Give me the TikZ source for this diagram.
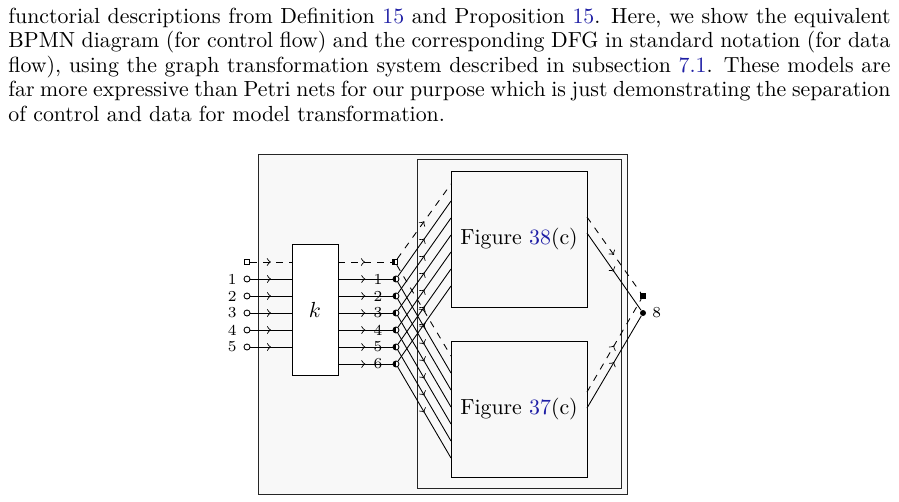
\documentclass[tikz,border=0pt]{standalone}
\usepackage{xcolor}
\usetikzlibrary{decorations.markings}
\definecolor{linkblue}{RGB}{30,30,165}
\definecolor{boxgray}{RGB}{248,248,248}
\newcommand\U{0.458pt}
\begin{document}
\begin{tikzpicture}[x=\U, y=-\U,
  midarrow/.style={postaction={decorate}, decoration={markings, mark=at position 0.5 with {\arrow{to}}}},
  wire/.style={line width=0.4pt, midarrow},
  dwire/.style={wire, dashed},
  bigbox/.style={draw=black!85, line width=0.45pt, fill=boxgray, inner sep=0pt},
  figbox/.style={draw, line width=0.45pt, fill=boxgray, inner sep=0pt, minimum width={136*\U}, minimum height={136*\U}, font=\fontsize{10}{12}\selectfont},
  kbox/.style={draw, line width=0.45pt, fill=white, inner sep=0pt, minimum width={46*\U}, minimum height={131*\U}},
  cport/.style={circle, draw, line width=0.4pt, fill=white, inner sep=0pt, minimum size={6*\U}},
  sport/.style={rectangle, draw, line width=0.4pt, fill=white, inner sep=0pt, minimum size={5.5*\U}},
  halfc/.style={cport, path picture={\fill[black] (path picture bounding box.south west) rectangle (path picture bounding box.north);}},
  halfs/.style={sport, path picture={\fill[black] (path picture bounding box.south west) rectangle (path picture bounding box.north);}},
  outc/.style={circle, fill=black, inner sep=0pt, minimum size={6*\U}},
  outs/.style={rectangle, fill=black, inner sep=0pt, minimum size={5.5*\U}},
  lab/.style={inner sep=0pt, font=\fontsize{7}{8}\selectfont},
  pline/.style={anchor=base west, inner sep=0pt, font=\fontsize{10}{12}\selectfont}
]
\fill[white] (0,0) rectangle (899,501);
\useasboundingbox (0,0) rectangle (899,501);

% paragraph
\node[pline] (p1) at (8,23) {\makebox[404pt][s]{functorial descriptions from Definition \textcolor{linkblue}{15} and Proposition \textcolor{linkblue}{15}. Here, we show the equivalent}};
\node[pline] (p2) at (8,47.5) {\makebox[404pt][s]{BPMN diagram (for control flow) and the corresponding DFG in standard notation (for data}};
\node[pline] (p3) at (8,72) {\makebox[404pt][s]{flow), using the graph transformation system described in subsection \textcolor{linkblue}{7.1}. These models are}};
\node[pline] (p4) at (8,96.5) {\makebox[404pt][s]{far more expressive than Petri nets for our purpose which is just demonstrating the separation}};
\node[pline] (p5) at (8,121) {of control and data for model transformation.};

% boxes
\node[bigbox, minimum width={369*\U}, minimum height={340*\U}] (outer) at (442.5,324) {};
\node[bigbox, minimum width={204*\U}, minimum height={329*\U}] (inner) at (519,323.5) {};
\node[figbox] (f38) at (519,239) {Figure \textcolor{linkblue}{38}(c)};
\node[figbox] (f37) at (519,409) {Figure \textcolor{linkblue}{37}(c)};
\node[kbox, font=\fontsize{10}{12}\selectfont] (k) at (315,309.5) {$k$};

% left input ports
\node[sport] (i0) at (247,262) {};
\foreach \j in {1,...,5} {
  \node[cport] (i\j) at (247,{262+17*\j}) {};
  \node[lab, anchor=east] (il\j) at (237,{262+17*\j}) {\j};
}
\draw[dwire] (i0) -- (i0 -| k.west);
\foreach \j in {1,...,5} { \draw[wire] (i\j) -- (i\j -| k.west); }

% right ports of k
\coordinate (ko0) at (338,262);
\foreach \j in {1,...,6} {
  \coordinate (ko\j) at (338,{262+17*\j});
}
\node[halfs] (o0) at (395,262) {};
\foreach \j in {1,...,6} {
  \node[halfc] (o\j) at (396,{262+17*\j}) {};
}
\draw[dwire] (ko0) -- (o0);
\foreach \j in {1,...,6} { \draw[wire] (ko\j) -- (o\j); }
\foreach \j in {1,...,6} {
  \node[lab] (ol\j) at (378,{262+17*\j}) {\j};
}

% diagonal connections
\foreach \j in {0,...,6} {
  \coordinate (up\j) at (451,{184+17*\j});
  \coordinate (dn\j) at (451,{356+17*\j});
}
\draw[dwire] (o0) -- (up0);
\draw[dwire] (o0) -- (dn0);
\foreach \j in {1,...,6} {
  \draw[wire] (o\j) -- (up\j);
  \draw[wire] (o\j) -- (dn\j);
}

% outputs
\node[outs] (os) at (643,296) {};
\node[outc] (oc) at (643,313) {};
\node[lab, anchor=west] (ol8) at (652,313) {8};
\coordinate (a1) at (587,217);
\coordinate (a2) at (587,233);
\coordinate (b1) at (587,392);
\coordinate (b2) at (587,408);
\draw[dwire] (a1) -- (os);
\draw[wire] (a2) -- (oc);
\draw[dwire] (b1) -- (os);
\draw[wire] (b2) -- (oc);
\end{tikzpicture}
\end{document}
